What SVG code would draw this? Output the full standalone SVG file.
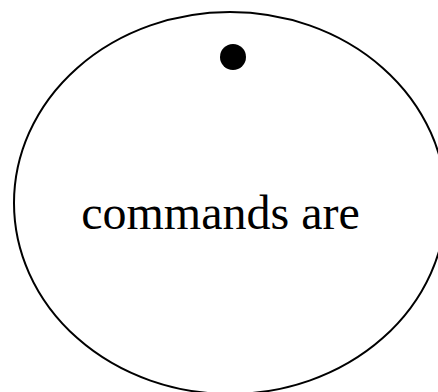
<svg xmlns="http://www.w3.org/2000/svg" width="438" height="392" viewBox="0 0 438 392">
<style>
.shape{fill:none;stroke:#000;stroke-width:2}
.lbl{font-family:"Liberation Serif","Times New Roman",serif;font-size:48px;fill:#000}
</style>
<rect width="438" height="392" fill="#fff"/>
<g id="node-main">
<ellipse class="shape" cx="230" cy="203" rx="216" ry="191"/>
<text class="lbl" x="220.5" y="229" text-anchor="middle">commands are</text>
</g>
<g id="node-dot">
<circle cx="233" cy="57" r="13" fill="#000"/>
</g>
<g id="connectors"></g>
</svg>
